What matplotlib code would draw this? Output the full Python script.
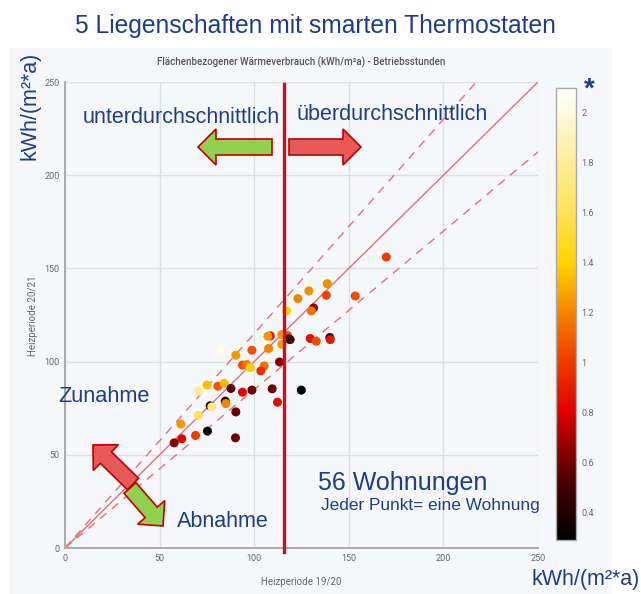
import numpy as np
import matplotlib
matplotlib.use("Agg")
import matplotlib.pyplot as plt
import matplotlib.patches as mpatches
from matplotlib.colors import LinearSegmentedColormap

# Heating periods, kWh/m²a per flat, and the hours ratio used for colour
hp_1920 = [57.7, 61.7, 69.0, 75.3, 90.1, 61.2, 70.4, 70.7,
           169.8, 153.4, 138.6, 138.1, 128.9, 123.1, 131.4, 130.2, 117.1,
           129.6, 132.8, 140.0, 140.2, 108.5, 107.2, 114.6, 117.6, 118.2,
           119.0, 114.6, 107.6, 98.8, 82.5, 90.3, 113.4, 93.8, 96.1, 97.9,
           105.3, 103.5, 75.0, 80.8, 84.1, 87.7, 93.8, 98.8, 109.5, 124.9,
           112.3, 84.7, 85.0, 76.7, 77.6, 90.3]
hp_2021 = [56.4, 58.6, 60.4, 62.7, 59.1, 66.5, 71.1, 84.1,
           156.1, 135.2, 141.8, 135.6, 137.9, 133.8, 128.8, 127.2, 127.2,
           112.4, 110.9, 112.9, 111.8, 113.8, 113.6, 114.5, 114.0, 112.2,
           111.8, 109.3, 107.0, 106.1, 106.1, 103.4, 99.8, 98.1, 98.4, 96.8,
           97.7, 95.0, 87.4, 86.8, 88.3, 85.6, 83.6, 84.7, 85.4, 84.7,
           78.2, 78.8, 77.5, 76.3, 75.7, 73.0]
ratio = [0.65, 0.82, 1.0, 0.32, 0.6, 1.25, 1.6, 1.8,
         1.0, 1.05, 1.22, 1.02, 1.22, 1.2, 0.65, 1.15, 1.4,
         0.85, 1.05, 0.33, 0.88, 0.85, 1.25, 1.22, 1.05, 0.55,
         0.5, 1.25, 1.2, 1.05, 2.05, 1.25, 0.65, 1.05, 1.18, 1.38,
         1.15, 0.95, 1.35, 1.08, 1.32, 0.55, 0.82, 0.58, 0.6, 0.3,
         0.85, 0.4, 1.2, 0.45, 1.75, 0.58]

avg_1920 = 116          # mean consumption 19/20
band = 0.15             # +/- 15 % corridor
ticks = [0, 50, 100, 150, 200, 250]
cbar_ticks = [0.4, 0.6, 0.8, 1, 1.2, 1.4, 1.6, 1.8, 2]
vmin, vmax = 0.29, 2.1

cstops = [(0.29, "#000000"), (0.5, "#420000"), (0.65, "#8c0000"),
          (0.8, "#dd0000"), (1.0, "#ee3a00"), (1.2, "#f28500"),
          (1.4, "#ffd300"), (1.6, "#ffe15a"), (1.8, "#ffec98"),
          (2.1, "#ffffff")]
cmap = LinearSegmentedColormap.from_list(
    "heat", [((v - vmin) / (vmax - vmin), c) for v, c in cstops])

BLUE = "#1f3c88"
GRAY = "#666666"
W, H = 641, 594

fig = plt.figure(figsize=(W / 100, H / 100), dpi=100)
fig.patch.set_facecolor("white")
fig.patches.append(mpatches.Rectangle((10 / W, 0), 602 / W, 546 / H,
                                      transform=fig.transFigure,
                                      facecolor="#f5f7fa", edgecolor="none",
                                      zorder=-10))

ax = fig.add_axes([65 / W, 46 / H, 473 / W, 466 / H])
ax.set_facecolor("#f5f7fa")
ax.set_xlim(0, 250)
ax.set_ylim(0, 250)
ax.set_xticks(ticks)
ax.set_yticks(ticks)
ax.grid(True, color="#dedfe2", lw=1)
ax.set_axisbelow(True)
ax.tick_params(length=0, labelsize=6.5, labelcolor=GRAY, pad=4)
for lab in ax.get_xticklabels() + ax.get_yticklabels():
    lab.set_family("Roboto")
for s in ("top", "right"):
    ax.spines[s].set_visible(False)
for s in ("left", "bottom"):
    ax.spines[s].set_color("#aaaaaa")
    ax.spines[s].set_linewidth(1.4)

line_c = "#e0707c"
xs = np.array([0, 250])
ax.plot(xs, xs, color=line_c, lw=1.0, zorder=2)
ax.plot([0, 250 / (1 + band)], [0, 250], color=line_c, lw=1.0,
        ls=(0, (6, 5)), zorder=2)
ax.plot(xs, xs * (1 - band), color=line_c, lw=1.0, ls=(0, (6, 5)), zorder=2)

sc = ax.scatter(hp_1920, hp_2021, c=ratio, cmap=cmap, vmin=vmin, vmax=vmax,
                s=42, edgecolors="none", zorder=3)

ax.plot([avg_1920, avg_1920], [-2, 249], color="#c8101e", lw=2.4,
        zorder=4, clip_on=False)

ax.set_title("Flächenbezogener Wärmeverbrauch (kWh/m²a) - Betriebsstunden",
             fontsize=7, color="#555555", family="Roboto", weight="medium",
             pad=12)

# colour bar
cax = fig.add_axes([556 / W, 54 / H, 20 / W, 452 / H])
cb = fig.colorbar(sc, cax=cax, ticks=cbar_ticks)
cb.outline.set_edgecolor("#aaaaaa")
cb.outline.set_linewidth(1.0)
cax.tick_params(length=0, labelsize=6.5, labelcolor=GRAY, pad=4)
cax.set_yticklabels([str(t) for t in cbar_ticks], family="Roboto")

# overlay in pixel units for labels and arrows
ov = fig.add_axes([0, 0, 1, 1])
ov.set_xlim(0, W)
ov.set_ylim(H, 0)
ov.axis("off")

ov.text(301, 585, "Heizperiode 19/20", fontsize=7, color=GRAY,
        family="Roboto", ha="center", va="baseline")
ov.text(33, 316, "Heizperiode 20/21", fontsize=7, color=GRAY,
        family="Roboto", ha="center", va="center", rotation=90)

arial = "Liberation Sans"
ov.text(75, 33, "5 Liegenschaften mit smarten Thermostaten", fontsize=17.7,
        color=BLUE, family=arial, ha="left", va="baseline")
ov.text(35, 160, "kWh/(m²*a)", fontsize=15.5, color=BLUE, family=arial,
        rotation=90, rotation_mode="anchor", ha="left", va="baseline")
ov.text(640, 585, "kWh/(m²*a)", fontsize=15.5, color=BLUE, family=arial,
        ha="right", va="baseline")
ov.text(83, 123, "unterdurchschnittlich", fontsize=15.5, color=BLUE,
        family=arial, ha="left", va="baseline")
ov.text(297, 120, "überdurchschnittlich", fontsize=15.5, color=BLUE,
        family=arial, ha="left", va="baseline")
ov.text(58, 402, "Zunahme", fontsize=15.7, color=BLUE, family=arial,
        ha="left", va="baseline")
ov.text(177, 527, "Abnahme", fontsize=15.5, color=BLUE, family=arial,
        ha="left", va="baseline")
ov.text(318, 490, "56 Wohnungen", fontsize=18, color=BLUE, family=arial,
        ha="left", va="baseline")
ov.text(540, 510, "Jeder Punkt= eine Wohnung", fontsize=12.4, color=BLUE,
        family=arial, ha="right", va="baseline")
ov.text(589, 90, "*", fontsize=20, color=BLUE, family=arial,
        weight="bold", ha="center", va="center")

green, red, edge = "#92d050", "#e85a5a", "#c00000"


def arrow(x0, y0, x1, y1, fc):
    ov.add_patch(mpatches.FancyArrow(
        x0, y0, x1 - x0, y1 - y0, width=16, head_width=36, head_length=18,
        length_includes_head=True, fc=fc, ec=edge, lw=1.2, zorder=6))


arrow(272, 147, 198, 147, green)
arrow(289, 147, 361, 147, red)
arrow(133, 484, 93, 445, red)
arrow(130, 488, 163, 526, green)

fig.savefig("out.png", dpi=100, facecolor=fig.get_facecolor())
